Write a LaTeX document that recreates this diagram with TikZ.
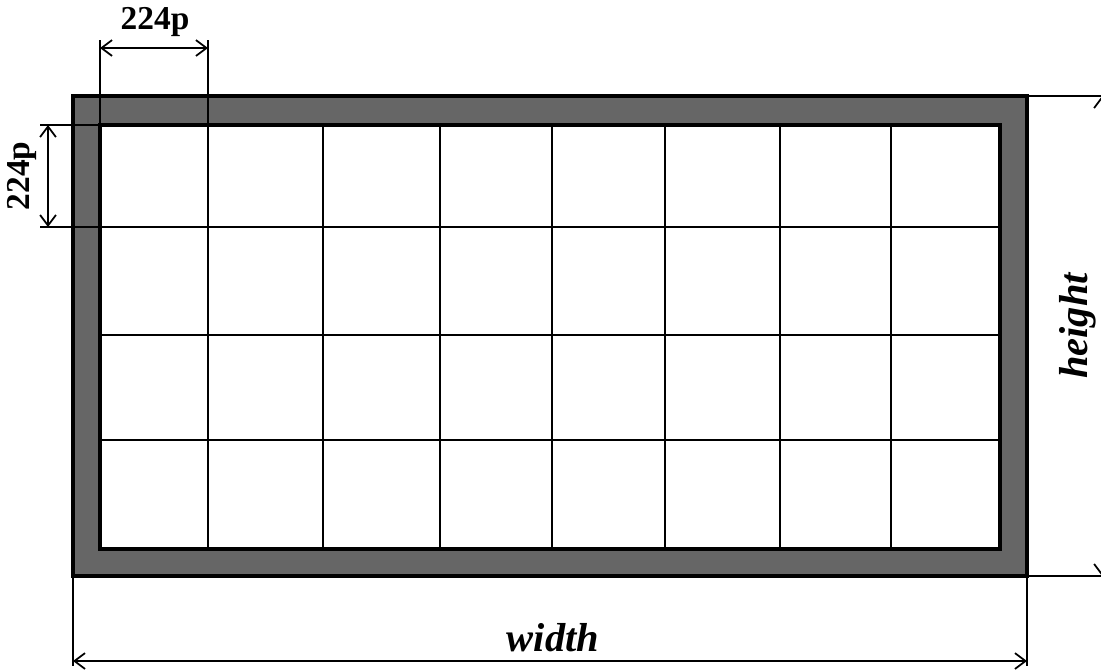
\documentclass[tikz,border=0pt]{standalone}
\usepackage{fontspec}
\setmainfont{Liberation Serif}
\usetikzlibrary{arrows.meta}
\definecolor{frameGray}{RGB}{102, 102, 102}

\begin{document}
\begin{tikzpicture}[x=0.01cm, y=-0.01cm, >={Straight Barb[length=3pt, width=4.5pt]},
  dimline/.style={<->, line width=0.5pt},
  extline/.style={line width=0.35pt},
  gridline/.style={line width=0.6pt},
  lbl/.style={font=\bfseries\fontsize{9.5}{11}\selectfont, inner sep=0pt},
  biglbl/.style={font=\bfseries\itshape\fontsize{11.5}{13}\selectfont, inner sep=0pt}]
  \useasboundingbox (0,0) rectangle (1101,669);

  % Frame and image area
  \fill[frameGray] (73,96) rectangle (1027,576);
  \draw[line width=1pt] (73,96) rectangle (1027,576);
  \fill[white] (100,125) rectangle (1000,549);

  % Patch grid
  \foreach \x in {208,323,440,552,665,780,891}
    \draw[gridline] (\x,125) -- (\x,549);
  \foreach \y in {227,335,440}
    \draw[gridline] (100,\y) -- (1000,\y);
  \draw[line width=1.1pt] (100,125) rectangle (1000,549);

  % Patch size, top
  \coordinate (pw1) at (100,48);
  \coordinate (pw2) at (208,48);
  \draw[extline] (100,40) -- (100,125);
  \draw[extline] (208,40) -- (208,125);
  \draw[dimline] (pw1) -- (pw2);
  \node[lbl] (pwLbl) at (155,22) {224p};

  % Patch size, left
  \coordinate (ph1) at (48,125);
  \coordinate (ph2) at (48,227);
  \draw[extline] (40,125) -- (100,125);
  \draw[extline] (40,227) -- (100,227);
  \draw[dimline] (ph1) -- (ph2);
  \node[lbl, rotate=90] (phLbl) at (22,176) {224p};

  % Total width
  \coordinate (w1) at (73,661);
  \coordinate (w2) at (1027,661);
  \draw[extline] (73,576) -- (73,666);
  \draw[extline] (1027,576) -- (1027,666);
  \draw[dimline] (w1) -- (w2);
  \node[biglbl] (wLbl) at (553,638) {width};

  % Total height
  \coordinate (h1) at (1102,96);
  \coordinate (h2) at (1102,576);
  \draw[extline] (1027,96) -- (1101,96);
  \draw[extline] (1027,576) -- (1101,576);
  \draw[dimline] (h1) -- (h2);
  \node[biglbl, rotate=90] (hLbl) at (1078,326) {height};
\end{tikzpicture}
\end{document}
